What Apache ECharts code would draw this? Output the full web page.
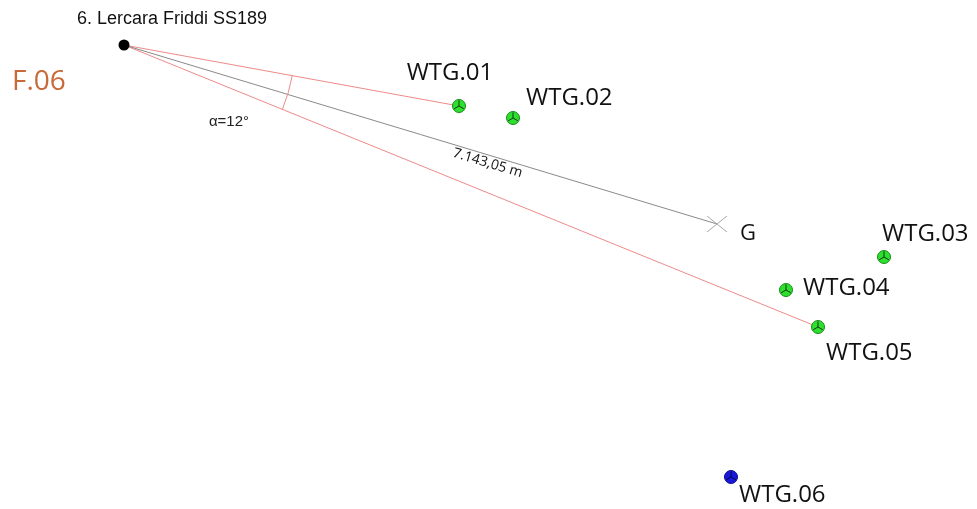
<!DOCTYPE html>
<html><head><meta charset="utf-8">
<script src="https://cdn.jsdelivr.net/npm/echarts@6/dist/echarts.min.js"></script>
<style>html,body{margin:0;padding:0;background:#fff}#c{width:977px;height:509px}</style>
</head><body><div id="c"></div>
<script>
// ---- data (plan coordinates) ----
const observerName = '6. Lercara Friddi SS189';
const observerPos = [124, 45];
const siteName = 'F.06';
const turbineNames = ['WTG.01', 'WTG.02', 'WTG.03', 'WTG.04', 'WTG.05', 'WTG.06'];
const turbineX = [459, 513, 884, 786, 818, 731];
const turbineY = [106, 118, 257, 290, 327, 477];
const turbineVisible = [1, 1, 1, 1, 1, 0];
const centroidName = 'G';
const centroidPos = [717, 224];
const distanceText = '7.143,05 m';
const angleText = 'α=12°';
const coneEdges = [0, 4]; // indices of turbines bounding the view cone

// ---- styles ----
const labelOffsets = [[-9, -33, 'center'], [13, -20, 'left'], [-2, -23, 'left'], [17, -2, 'left'], [8, 26, 'left'], [8, 18, 'left']];
const labelFont = '"Open Sans", sans-serif';

const chart = echarts.init(document.getElementById('c'));
const turbineData = turbineNames.map((n, i) => [turbineX[i], turbineY[i], turbineVisible[i], i]);

chart.setOption({
  animation: false,
  backgroundColor: '#ffffff',
  grid: { left: 0, right: 0, top: 0, bottom: 0 },
  xAxis: { type: 'value', min: 0, max: 977, show: false },
  yAxis: { type: 'value', min: 0, max: 509, inverse: true, show: false },
  series: [
    {
      type: 'custom',
      data: [[observerPos[0], observerPos[1]]],
      z: 1,
      renderItem: function (params, api) {
        const o = api.coord(observerPos);
        const g = api.coord(centroidPos);
        const a = api.coord([turbineX[coneEdges[0]], turbineY[coneEdges[0]]]);
        const b = api.coord([turbineX[coneEdges[1]], turbineY[coneEdges[1]]]);
        const angA = Math.atan2(a[1] - o[1], a[0] - o[0]);
        const angB = Math.atan2(b[1] - o[1], b[0] - o[0]);
        const th = Math.atan2(g[1] - o[1], g[0] - o[0]);
        const t = 0.617;
        const mx = o[0] + (g[0] - o[0]) * t - Math.sin(th) * 8;
        const my = o[1] + (g[1] - o[1]) * t + Math.cos(th) * 8;
        const red = '#ee8a8a';
        return {
          type: 'group',
          children: [
            { type: 'line', shape: { x1: o[0], y1: o[1], x2: a[0], y2: a[1] }, style: { stroke: red, lineWidth: 1 } },
            { type: 'line', shape: { x1: o[0], y1: o[1], x2: b[0], y2: b[1] }, style: { stroke: red, lineWidth: 1 } },
            { type: 'line', shape: { x1: o[0], y1: o[1], x2: g[0], y2: g[1] }, style: { stroke: '#8a8a8a', lineWidth: 1 } },
            { type: 'arc', shape: { cx: o[0], cy: o[1], r: 171, startAngle: angA, endAngle: angB, clockwise: true }, style: { stroke: red, fill: null, lineWidth: 1 } },
            // centroid cross
            { type: 'line', shape: { x1: g[0] - 10, y1: g[1] - 8, x2: g[0] + 10, y2: g[1] + 8 }, style: { stroke: '#a8a8a8', lineWidth: 1 } },
            { type: 'line', shape: { x1: g[0] - 10, y1: g[1] + 8, x2: g[0] + 10, y2: g[1] - 8 }, style: { stroke: '#a8a8a8', lineWidth: 1 } },
            { type: 'text', x: g[0] + 23, y: g[1] + 10, style: { text: centroidName, font: '22px ' + labelFont, fill: '#111', align: 'left', verticalAlign: 'middle' } },
            { type: 'text', x: mx, y: my, rotation: -th, style: { text: distanceText, font: '14px ' + labelFont, fill: '#111', align: 'center', verticalAlign: 'middle' } },
            { type: 'text', x: o[0] + 105, y: o[1] + 77, style: { text: angleText, font: '15px "Liberation Sans", sans-serif', fill: '#222', align: 'center', verticalAlign: 'middle' } },
            // observer
            { type: 'circle', shape: { cx: o[0], cy: o[1], r: 5.5 }, style: { fill: '#000' } },
            { type: 'text', x: o[0] - 47, y: o[1] - 26, style: { text: observerName, font: '18px "Liberation Sans", Arial, sans-serif', fill: '#111', align: 'left', verticalAlign: 'middle' } },
            { type: 'text', x: o[0] - 112, y: o[1] + 37, style: { text: siteName, font: '28px ' + labelFont, fill: '#c86a38', align: 'left', verticalAlign: 'middle' } }
          ]
        };
      }
    },
    {
      type: 'custom',
      data: turbineData,
      z: 2,
      renderItem: function (params, api) {
        const p = api.coord([api.value(0), api.value(1)]);
        const vis = api.value(2);
        const i = api.value(3);
        const r = 6.5;
        const fill = vis ? '#2ee02e' : '#1818dc';
        const edge = vis ? '#1b8a1b' : '#0c0c8a';
        const blade = vis ? '#143814' : '#05054a';
        const kids = [{ type: 'circle', shape: { cx: p[0], cy: p[1], r: r }, style: { fill: fill, stroke: edge, lineWidth: 1 } }];
        [-90, 30, 150].forEach(function (d) {
          const a = d * Math.PI / 180;
          kids.push({ type: 'line', shape: { x1: p[0], y1: p[1], x2: p[0] + Math.cos(a) * r * 0.85, y2: p[1] + Math.sin(a) * r * 0.85 }, style: { stroke: blade, lineWidth: 1 } });
        });
        const off = labelOffsets[i];
        kids.push({ type: 'text', x: p[0] + off[0], y: p[1] + off[1], style: { text: turbineNames[i], font: '24px ' + labelFont, fill: '#111', align: off[2], verticalAlign: 'middle' } });
        return { type: 'group', children: kids };
      }
    }
  ]
});
</script>
</body></html>
